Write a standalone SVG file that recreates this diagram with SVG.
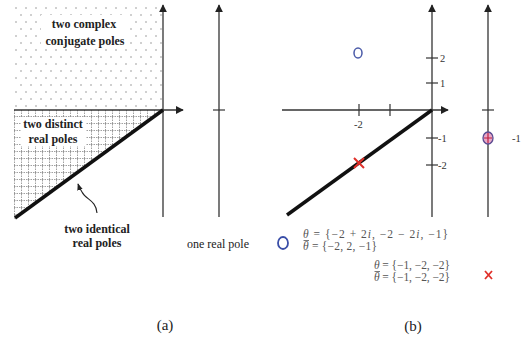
<svg xmlns="http://www.w3.org/2000/svg" width="522" height="339" viewBox="0 0 522 339">
<style>
.ax{stroke:#333;stroke-width:1.3;fill:none}
.tk{stroke:#333;stroke-width:1.2}
text{font-family:"Liberation Serif","Times New Roman","DejaVu Serif",serif}
.lbl{font-weight:bold;font-size:12px;fill:#222;text-anchor:middle}
.nl{font-size:12px;fill:#222;text-anchor:middle}
.num{font-size:10.5px;fill:#333}
.eq{font-size:11.5px;fill:#555}
.cap{font-size:15px;fill:#222;text-anchor:middle}
.bar{stroke:#555;stroke-width:0.8}
</style>
<defs>
<marker id="ah" viewBox="0 0 10 10" refX="9" refY="5" markerWidth="8" markerHeight="8" markerUnits="userSpaceOnUse" orient="auto">
<path d="M0,0 L10,5 L0,10 z" fill="#222"/>
</marker>
<marker id="ah2" viewBox="0 0 10 10" refX="9" refY="5" markerWidth="7" markerHeight="7" markerUnits="userSpaceOnUse" orient="auto">
<path d="M0,1 L10,5 L0,9 z" fill="#222"/>
</marker>
<pattern id="dots" width="10" height="14" patternUnits="userSpaceOnUse" x="14" y="5">
<circle cx="2" cy="3" r="0.75" fill="#888"/>
<circle cx="7" cy="10" r="0.75" fill="#888"/>
</pattern>
<pattern id="grid" width="7" height="7" patternUnits="userSpaceOnUse" x="14" y="110">
<path d="M0.5,0 V7 M0,6.5 H7" stroke="#777" stroke-width="0.7" stroke-dasharray="1.5 1" fill="none"/>
</pattern>
</defs>

<g id="panel-a-regions">
<rect x="14" y="5" width="149" height="105" fill="url(#dots)"/>
<polygon points="14,110 163,110 14,219" fill="url(#grid)"/>
<rect x="41" y="15" width="88" height="34" fill="#fff"/>
<rect x="21" y="117" width="65" height="29" fill="#fff"/>
</g>

<g id="connectors">
<line class="ax" x1="14" y1="110" x2="183" y2="110" marker-end="url(#ah)"/>
<line class="ax" x1="163" y1="217" x2="163" y2="5" marker-end="url(#ah)"/>
<line x1="15" y1="218" x2="163" y2="110" stroke="#111" stroke-width="3.5"/>
<path d="M97,213 C96,200 86,200 82,192 C80,189 79,187 78,184" stroke="#222" stroke-width="1.1" fill="none" marker-end="url(#ah2)"/>
<line class="ax" x1="219" y1="217" x2="219" y2="5" marker-end="url(#ah)"/>
<line class="tk" x1="213" y1="110" x2="225" y2="110"/>

<line class="ax" x1="282" y1="110" x2="448" y2="110" marker-end="url(#ah)"/>
<line class="ax" x1="432" y1="217" x2="432" y2="5" marker-end="url(#ah)"/>
<line x1="287" y1="215" x2="432" y2="110" stroke="#111" stroke-width="3.5"/>
<line class="ax" x1="488" y1="217" x2="488" y2="5" marker-end="url(#ah)"/>
<line class="tk" x1="359" y1="104" x2="359" y2="116"/>
<line class="tk" x1="390" y1="104" x2="390" y2="116"/>
<line class="tk" x1="426" y1="58" x2="438" y2="58"/>
<line class="tk" x1="426" y1="83" x2="438" y2="83"/>
<line class="tk" x1="426" y1="138" x2="438" y2="138"/>
<line class="tk" x1="426" y1="165" x2="438" y2="165"/>
<line class="tk" x1="482" y1="110" x2="494" y2="110"/>
</g>

<g id="label-complex">
<text class="lbl" x="84" y="28">two complex</text>
<text class="lbl" x="85" y="45">conjugate poles</text>
</g>
<g id="label-distinct">
<text class="lbl" x="53" y="128">two distinct</text>
<text class="lbl" x="53" y="143">real poles</text>
</g>
<g id="label-identical">
<text class="lbl" x="97" y="233">two identical</text>
<text class="lbl" x="97" y="247">real poles</text>
</g>
<g id="label-one-real">
<text class="nl" x="218" y="248">one real pole</text>
</g>
<text class="cap" x="165" y="330">(a)</text>

<g id="tick-labels">
<text class="num" x="440" y="62">2</text>
<text class="num" x="440" y="87">1</text>
<text class="num" x="438" y="142">-1</text>
<text class="num" x="438" y="169">-2</text>
<text class="num" x="354" y="128">-2</text>
<text class="num" x="512" y="142">-1</text>
</g>

<g id="pole-complex">
<ellipse cx="358" cy="53" rx="4" ry="5" fill="none" stroke="#4a5aa8" stroke-width="1.5"/>
</g>
<g id="pole-real-double">
<path d="M354,158 L364,168 M364,158 L354,168" stroke="#e0302a" stroke-width="2"/>
</g>
<g id="pole-real-single">
<ellipse cx="488" cy="138" rx="5" ry="6" fill="#e8a8c8" stroke="#5a4a90" stroke-width="1.3"/>
<path d="M484,138 H492 M488,133 V143" stroke="#c02040" stroke-width="1.2"/>
</g>

<g id="legend-circle">
<ellipse cx="283" cy="243" rx="5" ry="6" fill="none" stroke="#3a4ea8" stroke-width="1.8"/>
<text class="eq" x="303" y="238" textLength="145" lengthAdjust="spacing"><tspan font-style="italic">θ</tspan> = {−2 + 2<tspan font-style="italic">i</tspan>, −2 − 2<tspan font-style="italic">i</tspan>, −1}</text>
<text class="eq" x="303" y="250" textLength="74" lengthAdjust="spacing"><tspan font-style="italic">θ</tspan> = {−2, 2, −1}</text>
<line class="bar" x1="303.5" y1="240.5" x2="309" y2="240.5"/>
</g>
<g id="legend-cross">
<text class="eq" x="374" y="269" textLength="76" lengthAdjust="spacing"><tspan font-style="italic">θ</tspan> = {−1, −2, −2}</text>
<text class="eq" x="374" y="281" textLength="76" lengthAdjust="spacing"><tspan font-style="italic">θ</tspan> = {−1, −2, −2}</text>
<line class="bar" x1="374.5" y1="271.5" x2="380" y2="271.5"/>
<path d="M485,271 L492,279 M492,271 L485,279" stroke="#e0302a" stroke-width="1.8"/>
</g>
<text class="cap" x="413" y="331">(b)</text>
</svg>
